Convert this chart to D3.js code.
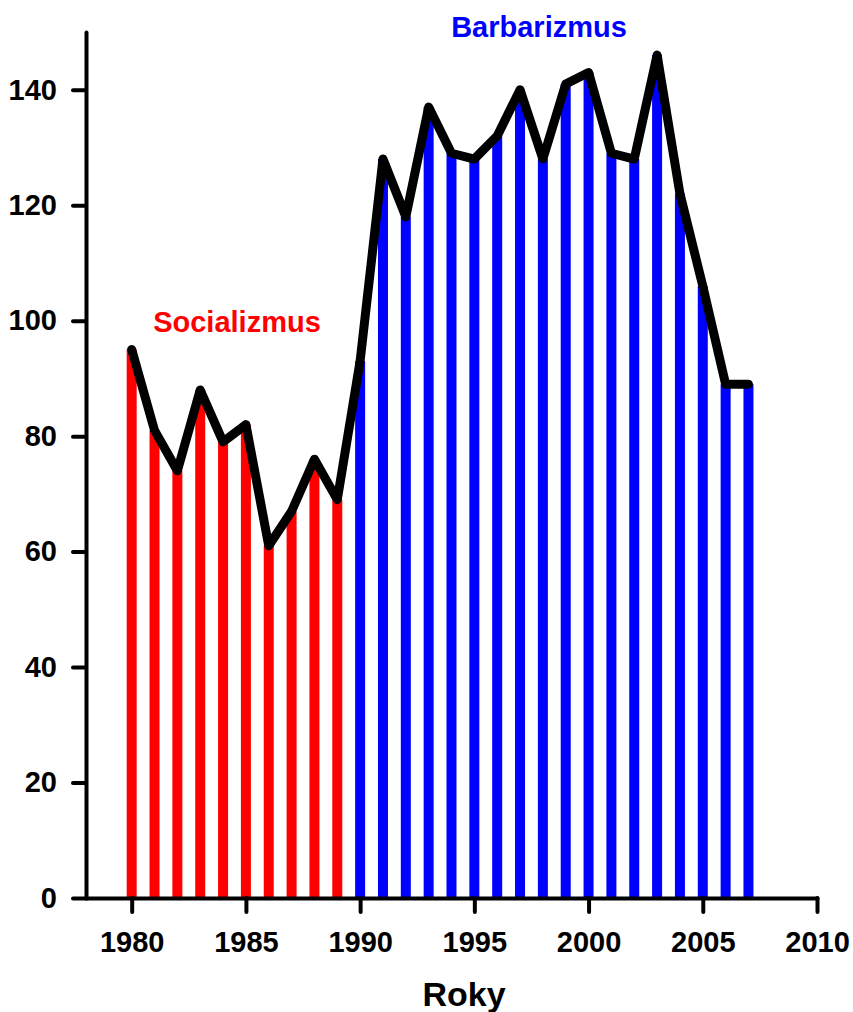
<!DOCTYPE html>
<html>
<head>
<meta charset="utf-8">
<script src="https://cdn.jsdelivr.net/npm/d3@7"></script>
<style>
  body { margin: 0; background: #fff; }
  text { font-family: "Liberation Sans", Arial, sans-serif; font-weight: bold; }
</style>
</head>
<body>
<div id="chart"></div>
<script>
// data
var years = [1980, 1981, 1982, 1983, 1984, 1985, 1986, 1987, 1988, 1989,
             1990, 1991, 1992, 1993, 1994, 1995, 1996, 1997, 1998, 1999,
             2000, 2001, 2002, 2003, 2004, 2005, 2006, 2007];
var values = [95, 81, 74, 88, 79, 82, 61, 67, 76, 69,
              93, 128, 118, 137, 129, 128, 132, 140, 128, 141,
              143, 129, 128, 146, 122, 106, 89, 89];
var xTicks = [1980, 1985, 1990, 1995, 2000, 2005, 2010];
var yTicks = [0, 20, 40, 60, 80, 100, 120, 140];
var splitYear = 1990;

//svg size
var svgWidth = 853;
var svgHeight = 1012;

var margin = {
    top: 32,
    right: 36,
    bottom: 114,
    left: 86
};

var width = svgWidth - margin.left - margin.right;
var height = svgHeight - margin.top - margin.bottom;

var svg = d3.select("#chart")
    .append("svg")
    .attr("width", svgWidth)
    .attr("height", svgHeight);

var chartGroup = svg.append("g")
    .attr("transform", `translate(${margin.left}, ${margin.top})`);

var data = years.map(function(y, i) { return { year: y, value: values[i] }; });

//scales
var xScale = d3.scaleLinear()
    .domain([1978, 2010])
    .range([0, width]);

var yScale = d3.scaleLinear()
    .domain([0, 150])
    .range([height, 0]);

//bars (thin stripes)
var barWidth = 10;
chartGroup.selectAll("rect.bar")
    .data(data)
    .enter()
    .append("rect")
    .attr("class", "bar")
    .attr("x", d => xScale(d.year) - barWidth / 2)
    .attr("y", d => yScale(d.value))
    .attr("width", barWidth)
    .attr("height", d => height - yScale(d.value))
    .attr("fill", d => d.year < splitYear ? "#ff0000" : "#0000ff");

//black line on top
var line = d3.line()
    .x(d => xScale(d.year))
    .y(d => yScale(d.value));

chartGroup.append("path")
    .datum(data)
    .attr("d", line)
    .attr("fill", "none")
    .attr("stroke", "#000")
    .attr("stroke-width", 9)
    .attr("stroke-linejoin", "round")
    .attr("stroke-linecap", "round");

//axes
var leftAxis = d3.axisLeft(yScale)
    .tickValues(yTicks)
    .tickSize(13)
    .tickSizeOuter(0)
    .tickPadding(16);

var bottomAxis = d3.axisBottom(xScale)
    .tickValues(xTicks)
    .tickSize(14)
    .tickSizeOuter(0)
    .tickPadding(19)
    .tickFormat(d3.format("d"));

var xAxis = chartGroup.append("g")
    .attr("transform", `translate(0, ${height})`)
    .call(bottomAxis);

var yAxis = chartGroup.append("g")
    .call(leftAxis);

[xAxis, yAxis].forEach(function(ax) {
    ax.selectAll("path, line")
        .attr("stroke", "#000")
        .attr("stroke-width", 4)
        .attr("stroke-linecap", "round");
    ax.selectAll("text")
        .attr("fill", "#000")
        .style("font-size", "29px");
});

//period labels
chartGroup.append("text")
    .attr("x", 237 - margin.left)
    .attr("y", 332 - margin.top)
    .attr("text-anchor", "middle")
    .attr("fill", "#ff0000")
    .style("font-size", "29px")
    .text("Socializmus");

chartGroup.append("text")
    .attr("x", 539 - margin.left)
    .attr("y", 37 - margin.top)
    .attr("text-anchor", "middle")
    .attr("fill", "#0000ff")
    .style("font-size", "29px")
    .text("Barbarizmus");

//x axis title
chartGroup.append("text")
    .attr("x", 464 - margin.left)
    .attr("y", 1006 - margin.top)
    .attr("text-anchor", "middle")
    .attr("fill", "#000")
    .style("font-size", "34px")
    .text("Roky");
</script>
</body>
</html>
